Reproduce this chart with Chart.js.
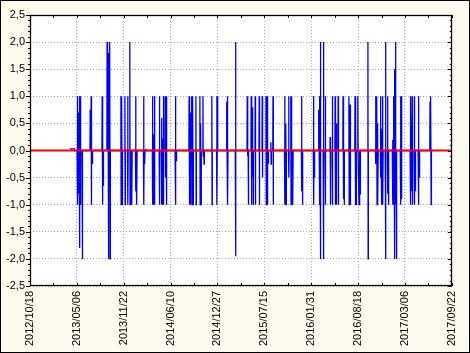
<!DOCTYPE html>
<html>
<head>
<meta charset="utf-8">
<script src="https://cdn.jsdelivr.net/npm/chart.js@4"></script>
<style>
    html, body { margin: 0; padding: 0; background: #fffaee; }
    #wrap { width: 470px; height: 353px; }
</style>
</head>
<body>
<div id="wrap"><canvas id="chart" width="470" height="353"></canvas></div>
<script>
// x values are days counted from the first tick date
const startDate = Date.UTC(2012, 9, 18);
const xMax = 1800;
const xStep = 200;
const yTicks = [-2.5, -2, -1.5, -1, -0.5, 0, 0.5, 1, 1.5, 2, 2.5];

// blue series: start of record, then spikes (day, highest, lowest)
const seriesStart = 169;
const seriesLead = 0.03;
const seriesEnd = 1720;
const spikeDay = [202, 207, 211, 215, 223, 257, 261, 266, 308, 312, 329, 333, 337, 341, 388, 392, 405, 417, 426, 430,
    434, 451, 455, 485, 489, 493, 523, 527, 531, 552, 561, 565, 569, 577, 582, 620, 624, 679, 683, 687,
    691, 695, 708, 725, 729, 738, 742, 776, 797, 801, 839, 843, 877, 927, 931, 944, 948, 952, 961, 978,
    991, 1007, 1012, 1016, 1028, 1037, 1087, 1092, 1104, 1113, 1117, 1121, 1159, 1163, 1210, 1214, 1231, 1235, 1239, 1252,
    1260, 1281, 1290, 1302, 1307, 1315, 1336, 1340, 1361, 1366, 1387, 1391, 1399, 1403, 1408, 1442, 1475, 1480, 1484, 1496,
    1501, 1505, 1517, 1526, 1530, 1547, 1551, 1555, 1560, 1564, 1581, 1585, 1623, 1627, 1631, 1640, 1644, 1657, 1661, 1707,
    1711];
const spikeHigh = [1, 0.7, 1, 1, 0, 0.75, 1, 0, 1, 0, 2, 1, 1.8, 2, 1, 1, 1, 1, 2, 0,
    0, 1, 0, 1, 0, 0.03, 1, 0.3, 1, 1, 0.6, 0.22, 1, 1, 1, 1, 0, 1, 0.6, 0.7,
    1, 1, 1, 1, 0.5, 1, 0, 1, 1, 1, 0.9, 1, 2, 1, 0, 1, 0.8, 0, 1, 1,
    1, 1, 1, 0, 0.15, 1, 1, 0.5, 1, 1, 1, 0, 1, 0, 1, 0, 0.75, 1, 2, 2,
    1, 0.25, 1, 1, 0.5, 1, 1, 0, 1, 0.85, 1, 0.4, 1, 0, 0, 2, 1, 1, 0.5, 1,
    0.4, 1, 2, 1, 0, 0.2, 1, 1.5, 2, 0, 1, 1, 1, 0.35, 1, 1, 0, 1, 0, 0.9,
    1];
const spikeLow = [-1, -0.8, -1.8, -1, -2, 0, -1, -0.25, -1, -0.65, 0, -2, -0.65, -2, -1, -1, -1, -1, -1, -0.5,
    -1, -0.75, -1, -1, -0.25, 0, -1, -1, -1, -1, -1, -1, -1, -0.5, -1, -1, -0.2, -1, -1, -0.25,
    -1, -1, -1, -1, -1, -0.1, -0.25, -1, -1, 0, 0, -1, -1.95, -0.1, -1, -1, -0.5, -1, -1, -1,
    -0.5, -1, -1, -0.25, -0.25, -1, -1, -1, -0.5, -1, -1, -1, -0.75, -1, -1, -0.5, 0, -1, -2, -2,
    -1, -1, -1, -1, -1, -1, -0.9, -1, -1, -1, -1, -1, 0, -1, -0.8, -2, -0.25, -1, -1, -0.5,
    -1, -1, -2, -0.8, -1, -1, -1, -2, -1, -2, -1, -0.9, -1, -0.75, -1, -1, -0.75, -1, -0.5, 0,
    -1];

// red reference line
const refDays = [0, 1800];
const refValues = [0, 0];

function fmtDate(days) {
    const d = new Date(startDate + days * 86400000);
    const mm = String(d.getUTCMonth() + 1).padStart(2, '0');
    const dd = String(d.getUTCDate()).padStart(2, '0');
    return `${d.getUTCFullYear()}/${mm}/${dd}`;
}

const bluePoints = [
    { x: seriesStart, y: seriesLead },
    { x: spikeDay[0] - 12, y: seriesLead },
    { x: spikeDay[0] - 12, y: 0 }
];
spikeDay.forEach((d, i) => {
    bluePoints.push({ x: d - 1, y: 0 });
    bluePoints.push({ x: d, y: spikeHigh[i] });
    bluePoints.push({ x: d + 1, y: spikeLow[i] });
    bluePoints.push({ x: d + 2, y: 0 });
});
bluePoints.push({ x: seriesEnd, y: 0 });

const redPoints = refDays.map((d, i) => ({ x: d, y: refValues[i] }));

// background, plot frame and the little inner/outer ticks
const framePlugin = {
    id: 'frame',
    beforeDraw(chart) {
        const ctx = chart.ctx;
        const a = chart.chartArea;
        ctx.save();
        ctx.fillStyle = '#fffaee';
        ctx.fillRect(0, 0, chart.width, chart.height);
        ctx.fillStyle = '#ffffff';
        ctx.fillRect(a.left, a.top, a.right - a.left, a.bottom - a.top);
        ctx.restore();
    },
    afterDraw(chart) {
        const ctx = chart.ctx;
        const a = chart.chartArea;
        const xs = chart.scales.x;
        const ys = chart.scales.y;
        ctx.save();
        ctx.strokeStyle = '#000';
        ctx.lineWidth = 1;
        ctx.beginPath();
        for (let v = 0; v <= xMax; v += xStep / 2) {
            const px = Math.round(xs.getPixelForValue(v)) + 0.5;
            ctx.moveTo(px, a.top);
            ctx.lineTo(px, a.top + 3);
            ctx.moveTo(px, a.bottom);
            ctx.lineTo(px, a.bottom - 3);
        }
        for (let i = -25; i <= 25; i++) {
            const py = Math.round(ys.getPixelForValue(i / 10)) + 0.5;
            const len = i % 5 === 0 ? 4 : 2;
            ctx.moveTo(a.left - len, py);
            ctx.lineTo(a.left, py);
            ctx.moveTo(a.right - len, py);
            ctx.lineTo(a.right, py);
        }
        ctx.stroke();
        ctx.lineWidth = 1.3;
        ctx.strokeRect(Math.round(a.left) + 0.5, Math.round(a.top) + 0.5,
            Math.round(a.right - a.left) - 1, Math.round(a.bottom - a.top) - 1);
        ctx.lineWidth = 1;
        ctx.strokeRect(0.5, 0.5, chart.width - 1, chart.height - 1);
        ctx.restore();
    }
};

Chart.defaults.font.family = 'Arial, "Liberation Sans", sans-serif';
Chart.defaults.font.size = 11;
Chart.defaults.color = '#000';

new Chart(document.getElementById('chart'), {
    type: 'line',
    data: {
        datasets: [
            {
                data: redPoints,
                borderColor: '#ff0000',
                borderWidth: 2,
                pointRadius: 0,
                tension: 0
            },
            {
                data: bluePoints,
                borderColor: '#0000ff',
                borderWidth: 1.3,
                pointRadius: 0,
                tension: 0
            }
        ]
    },
    options: {
        responsive: false,
        animation: false,
        events: [],
        layout: { padding: { top: 15, right: 13, left: 0, bottom: 0 } },
        plugins: {
            legend: { display: false },
            tooltip: { enabled: false }
        },
        scales: {
            x: {
                type: 'linear',
                min: 0,
                max: xMax,
                afterFit: s => { s.height = 67; },
                afterBuildTicks: s => {
                    s.ticks = [];
                    for (let v = 0; v <= xMax; v += xStep) s.ticks.push({ value: v });
                },
                ticks: {
                    autoSkip: false,
                    minRotation: 90,
                    maxRotation: 90,
                    padding: 5,
                    callback: v => fmtDate(v)
                },
                grid: { color: '#aaaaaa', drawTicks: false },
                border: { display: false, dash: [1, 2] }
            },
            y: {
                min: -2.5,
                max: 2.5,
                afterFit: s => { s.width = 30; },
                afterBuildTicks: s => {
                    s.ticks = yTicks.map(v => ({ value: v }));
                },
                ticks: {
                    padding: 5,
                    callback: v => v.toFixed(1).replace('.', ',')
                },
                grid: { color: '#aaaaaa', drawTicks: false },
                border: { display: false, dash: [1, 2] }
            }
        }
    },
    plugins: [framePlugin]
});
</script>
</body>
</html>
